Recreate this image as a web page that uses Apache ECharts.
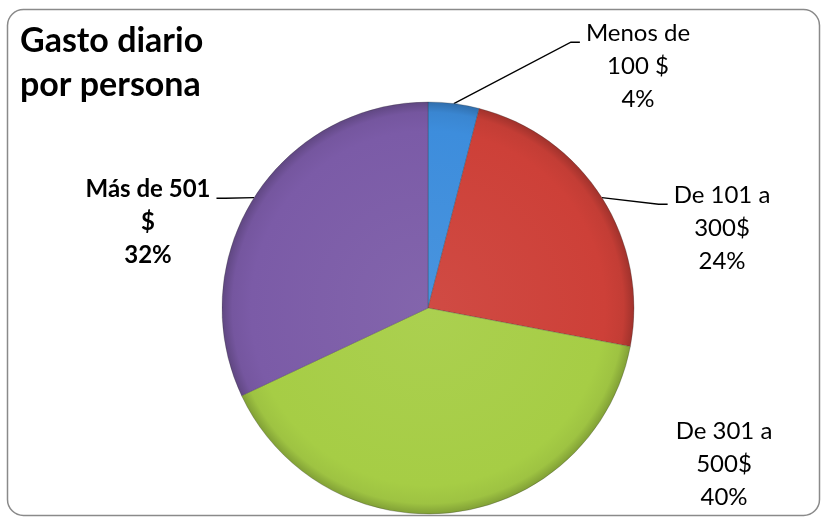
<!DOCTYPE html>
<html>
<head>
<meta charset="utf-8">
<script src="https://cdn.jsdelivr.net/npm/echarts@6/dist/echarts.min.js"></script>
<style>
  html, body { margin: 0; padding: 0; background: #fff; }
  #chart { width: 828px; height: 517px; }
</style>
</head>
<body>
<div id="chart"></div>
<script>
// Daily spending per person, share of respondents by bracket
const categories = ['Menos de\n100 $', 'De 101 a\n300$', 'De 301 a\n500$', 'Más de 501\n$'];
const shares = [4, 24, 40, 32];
const sliceColors = ['#3d8ddc', '#cd4038', '#a6cd45', '#7b5ba7'];

// label block centres, leader-line flag and weight per slice
const labelSpots = [
  { x: 638, y: 66, line: true, bold: false },
  { x: 722, y: 228, line: true, bold: false },
  { x: 724, y: 464, line: false, bold: false },
  { x: 148, y: 222, line: true, bold: true }
];

const PIE_CENTER = [428, 308];
const PIE_RADIUS = 206;
const LABEL_LINE_HEIGHT = 33;

// shade a hex colour by a factor (>1 lighter, <1 darker)
function shade(hex, f) {
  const n = parseInt(hex.slice(1), 16);
  const ch = [(n >> 16) & 255, (n >> 8) & 255, n & 255].map(c => {
    const v = f >= 1 ? c + (255 - c) * (f - 1) : c * f;
    return Math.max(0, Math.min(255, Math.round(v)));
  });
  return 'rgb(' + ch.join(',') + ')';
}

function sliceFill(hex) {
  return {
    type: 'radial',
    x: PIE_CENTER[0], y: PIE_CENTER[1], r: PIE_RADIUS,
    global: true,
    colorStops: [
      { offset: 0, color: shade(hex, 1.06) },
      { offset: 0.86, color: hex },
      { offset: 0.95, color: shade(hex, 0.95) },
      { offset: 1, color: shade(hex, 0.78) }
    ]
  };
}

const chart = echarts.init(document.getElementById('chart'));

const data = categories.map((name, i) => ({
  name: name,
  value: shares[i],
  itemStyle: { color: sliceFill(sliceColors[i]) },
  labelLine: { show: labelSpots[i].line },
  label: { fontWeight: labelSpots[i].bold ? 'bold' : 'normal' }
}));

chart.setOption({
  animation: false,
  title: {
    text: 'Gasto diario\npor persona',
    left: 15,
    top: 14,
    textStyle: {
      fontFamily: 'Lato',
      fontSize: 34,
      fontWeight: 'bold',
      color: '#000',
      lineHeight: 44
    }
  },
  graphic: [{
    type: 'rect',
    shape: { x: 7.5, y: 9.5, width: 812, height: 506, r: 16 },
    style: { fill: 'none', stroke: '#8a8a8a', lineWidth: 1.5 },
    z: -1
  }],
  series: [{
    type: 'pie',
    center: PIE_CENTER,
    radius: PIE_RADIUS,
    startAngle: 90,
    clockwise: true,
    data: data,
    itemStyle: { borderColor: 'rgba(50,50,50,0.35)', borderWidth: 0.8 },
    label: {
      show: true,
      position: 'outside',
      formatter: p => p.name + '\n' + p.value + '%',
      fontFamily: 'Lato',
      fontSize: 24,
      lineHeight: LABEL_LINE_HEIGHT,
      color: '#000',
      align: 'center'
    },
    labelLine: {
      show: true,
      length: 20,
      length2: 10,
      lineStyle: { color: '#000', width: 1.3 }
    },
    labelLayout: function (params) {
      const s = labelSpots[params.dataIndex];
      const out = { x: s.x, y: s.y, align: 'center', verticalAlign: 'middle' };
      const pts = params.labelLinePoints;
      if (s.line && pts && pts.length) {
        const w = params.labelRect.width;
        const h = params.labelRect.height;
        const top = s.y - h / 2;
        const lineY = top + LABEL_LINE_HEIGHT * 0.78;
        const start = pts[0];
        const onRight = start[0] > PIE_CENTER[0];
        const edgeX = onRight ? s.x - w / 2 - 6 : s.x + w / 2 + 6;
        const elbowX = onRight ? edgeX - 9 : edgeX + 9;
        out.labelLinePoints = [[start[0], start[1]], [elbowX, lineY], [edgeX, lineY]];
      }
      return out;
    }
  }]
});
</script>
</body>
</html>
